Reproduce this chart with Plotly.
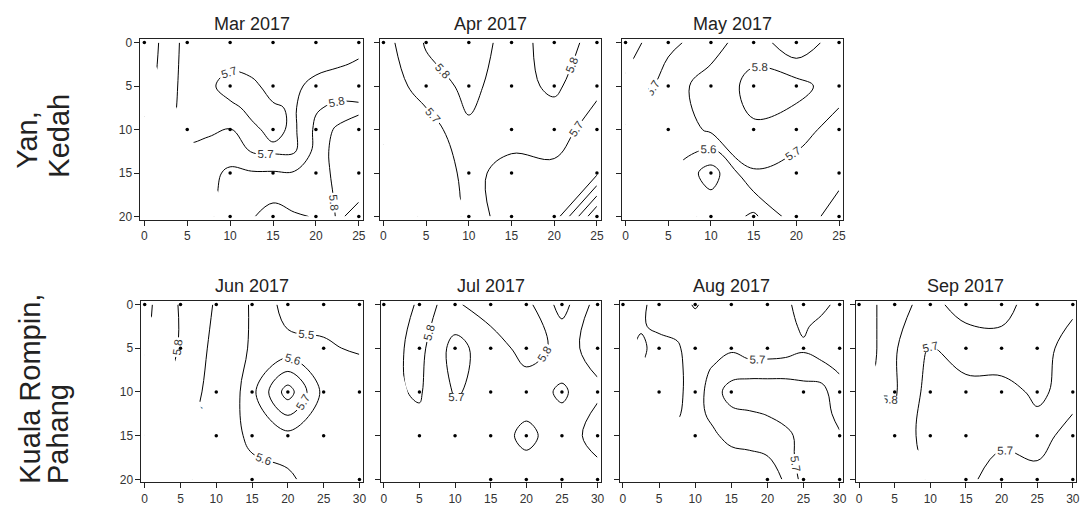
import plotly.graph_objects as go

FONT = "Liberation Sans, Arial, sans-serif"

# ---------------- data ----------------
Y_VALS = [0, 5, 10, 15, 20]
X_ROW1 = [0, 5, 10, 15, 20, 25]
X_ROW2 = [0, 5, 10, 15, 20, 25, 30]
# March and August surfaces were read on a finer 2.5 m grid
X_MAR = [0, 2.5, 5, 7.5, 10, 12.5, 15, 17.5, 20, 22.5, 25]
Y_FINE = [0, 2.5, 5, 7.5, 10, 12.5, 15, 17.5, 20]
X_AUG = [0, 2.5, 5, 7.5, 10, 12.5, 15, 17.5, 20, 22.5, 25, 27.5, 30]
X_TICKS_ROW1 = [0, 5, 10, 15, 20, 25]
X_TICKS_ROW2 = [0, 5, 10, 15, 20, 25, 30]
Y_TICKS = [0, 5, 10, 15, 20]

MONTHS = ["Mar 2017", "Apr 2017", "May 2017", "Jun 2017", "Jul 2017", "Aug 2017", "Sep 2017"]
SITES = [["Yan,", "Kedah"], ["Kuala Rompin,", "Pahang"]]

# pH surface values, rows = y, columns = x
Z_MAR = [[5.86, 5.77, 5.66, 5.66, 5.65, 5.66, 5.66, 5.66, 5.65, 5.66, 5.67],
         [5.86, 5.76, 5.66, 5.65, 5.68, 5.67, 5.66, 5.66, 5.67, 5.69, 5.71],
         [5.85, 5.75, 5.66, 5.68, 5.74, 5.72, 5.67, 5.68, 5.73, 5.75, 5.77],
         [5.83, 5.74, 5.66, 5.67, 5.68, 5.72, 5.71, 5.69, 5.79, 5.82, 5.81],
         [5.76, 5.72, 5.67, 5.68, 5.702, 5.685, 5.72, 5.685, 5.82, 5.795, 5.78],
         [5.74, 5.72, 5.72, 5.74, 5.75, 5.695, 5.685, 5.69, 5.83, 5.78, 5.77],
         [5.72, 5.74, 5.75, 5.77, 5.82, 5.81, 5.81, 5.81, 5.84, 5.78, 5.76],
         [5.72, 5.74, 5.76, 5.78, 5.83, 5.85, 5.87, 5.86, 5.84, 5.79, 5.79],
         [5.72, 5.74, 5.77, 5.79, 5.83, 5.89, 5.95, 5.91, 5.895, 5.79, 5.82]]
Z_APR = [[5.66, 5.81, 5.84, 5.77, 5.83, 5.78],
         [5.62, 5.76, 5.82, 5.76, 5.82, 5.72],
         [5.61, 5.64, 5.79, 5.75, 5.74, 5.66],
         [5.58, 5.62, 5.73, 5.66, 5.68, 5.62],
         [5.56, 5.61, 5.72, 5.68, 5.66, 5.20]]
Z_MAY = [[5.85, 5.72, 5.66, 5.76, 5.62, 5.76],
         [5.78, 5.66, 5.74, 5.83, 5.84, 5.74],
         [5.69, 5.62, 5.72, 5.79, 5.74, 5.66],
         [5.62, 5.62, 5.45, 5.69, 5.66, 5.68],
         [5.62, 5.64, 5.58, 5.48, 5.66, 5.73]]
Z_JUN = [[5.93, 5.79, 5.69, 5.59, 5.46, 5.47, 5.46],
         [5.91, 5.79, 5.67, 5.59, 5.53, 5.51, 5.49],
         [5.85, 5.76, 5.66, 5.57, 5.85, 5.57, 5.56],
         [5.80, 5.72, 5.66, 5.58, 5.57, 5.56, 5.56],
         [5.78, 5.72, 5.66, 5.63, 5.61, 5.57, 5.55]]
Z_JUL = [[5.74, 5.81, 5.79, 5.84, 5.83, 5.66, 5.84],
         [5.76, 5.83, 5.66, 5.76, 5.83, 5.78, 5.82],
         [5.78, 5.81, 5.69, 5.74, 5.76, 5.68, 5.79],
         [5.77, 5.77, 5.75, 5.76, 5.82, 5.76, 5.83],
         [5.76, 5.76, 5.76, 5.76, 5.76, 5.76, 5.77]]
Z_AUG = [[5.72, 5.705, 5.69, 5.68, 5.705, 5.68, 5.68, 5.68, 5.68, 5.69, 5.72, 5.71, 5.69],
         [5.72, 5.705, 5.69, 5.69, 5.68, 5.68, 5.68, 5.68, 5.68, 5.69, 5.705, 5.69, 5.68],
         [5.72, 5.69, 5.72, 5.705, 5.68, 5.68, 5.695, 5.68, 5.68, 5.685, 5.695, 5.68, 5.68],
         [5.72, 5.705, 5.72, 5.71, 5.68, 5.705, 5.72, 5.72, 5.72, 5.72, 5.72, 5.715, 5.695],
         [5.72, 5.71, 5.72, 5.71, 5.68, 5.72, 5.68, 5.67, 5.67, 5.67, 5.68, 5.69, 5.72],
         [5.71, 5.72, 5.72, 5.705, 5.68, 5.715, 5.71, 5.705, 5.698, 5.68, 5.68, 5.68, 5.715],
         [5.71, 5.71, 5.71, 5.69, 5.68, 5.69, 5.72, 5.72, 5.72, 5.715, 5.68, 5.68, 5.695],
         [5.71, 5.71, 5.71, 5.69, 5.68, 5.68, 5.68, 5.69, 5.698, 5.72, 5.68, 5.67, 5.68],
         [5.69, 5.69, 5.69, 5.68, 5.68, 5.68, 5.68, 5.68, 5.68, 5.705, 5.698, 5.68, 5.68]]
Z_SEP = [[5.78, 5.82, 5.78, 5.83, 5.83, 5.76, 5.72],
         [5.79, 5.81, 5.69, 5.76, 5.77, 5.74, 5.66],
         [5.79, 5.81, 5.66, 5.66, 5.66, 5.72, 5.66],
         [5.78, 5.76, 5.66, 5.66, 5.68, 5.66, 5.74],
         [5.78, 5.76, 5.69, 5.68, 5.74, 5.73, 5.75]]

# sampling stations: y -> list of x
PTS_MAR = {0: [0, 5, 10, 15, 20, 25], 5: [10, 15, 20, 25], 10: [5, 10, 15, 20, 25],
           15: [10, 15, 20, 25], 20: [10, 15, 20, 25]}
PTS_APR = {0: [0, 5, 10, 15, 20, 25], 5: [5, 10, 15, 20, 25], 10: [15, 20, 25],
           15: [10, 15, 25], 20: [10, 15, 20, 25]}
PTS_MAY = {0: [0, 5, 10, 15, 20, 25], 5: [5, 10, 15, 20, 25], 10: [5, 15, 20, 25],
           15: [10, 20, 25], 20: [10, 15, 20, 25]}
PTS_JUN = {0: [0, 5, 10, 15, 20, 25, 30], 5: [5, 25], 10: [10, 15, 20, 25, 30],
           15: [10, 15, 20, 25], 20: [15, 30]}
PTS_JUL = {0: [0, 5, 10, 15, 20, 25, 30], 5: [5, 10, 15, 20, 30], 10: [5, 15, 20, 25, 30],
           15: [5, 10, 15, 20, 25, 30], 20: [15, 20, 25, 30]}
PTS_AUG = {0: [0, 5, 10, 15, 20, 25, 30], 5: [5, 10, 15, 20, 25, 30], 10: [5, 10, 15, 25, 30],
           15: [10, 30], 20: [20, 25, 30]}
PTS_SEP = {0: [0, 5, 10, 15, 20, 25, 30], 5: [15, 20, 25], 10: [5, 10, 15, 20, 25, 30],
           15: [5, 10, 15, 25, 30], 20: [15, 20, 25, 30]}

# ---------------- layout geometry (pixels) ----------------
FIG_W, FIG_H = 1087, 517
PANELS = [
    (MONTHS[0], X_MAR, Y_FINE, X_TICKS_ROW1, Z_MAR, PTS_MAR, (141, 364, 36, 219), True),
    (MONTHS[1], X_ROW1, Y_VALS, X_TICKS_ROW1, Z_APR, PTS_APR, (381, 603, 36, 219), False),
    (MONTHS[2], X_ROW1, Y_VALS, X_TICKS_ROW1, Z_MAY, PTS_MAY, (624, 846, 36, 219), False),
    (MONTHS[3], X_ROW2, Y_VALS, X_TICKS_ROW2, Z_JUN, PTS_JUN, (142, 364, 302, 486), True),
    (MONTHS[4], X_ROW2, Y_VALS, X_TICKS_ROW2, Z_JUL, PTS_JUL, (382, 603, 302, 486), False),
    (MONTHS[5], X_AUG, Y_FINE, X_TICKS_ROW2, Z_AUG, PTS_AUG, (622, 846, 302, 486), False),
    (MONTHS[6], X_ROW2, Y_VALS, X_TICKS_ROW2, Z_SEP, PTS_SEP, (859, 1080, 302, 486), False),
]


def px_x(p):
    return p / FIG_W


def px_y(p):
    return 1 - p / FIG_H


def convex_hull(points):
    pts = sorted(set(points))
    if len(pts) <= 2:
        return pts

    def cross(o, a, b):
        return (a[0] - o[0]) * (b[1] - o[1]) - (a[1] - o[1]) * (b[0] - o[0])

    lower, upper = [], []
    for p in pts:
        while len(lower) >= 2 and cross(lower[-2], lower[-1], p) <= 0:
            lower.pop()
        lower.append(p)
    for p in reversed(pts):
        while len(upper) >= 2 and cross(upper[-2], upper[-1], p) <= 0:
            upper.pop()
        upper.append(p)
    return lower[:-1] + upper[:-1]


def signed_area(poly):
    s = 0
    for i in range(len(poly)):
        x1, y1 = poly[i]
        x2, y2 = poly[(i + 1) % len(poly)]
        s += x1 * y2 - x2 * y1
    return s / 2


fig = go.Figure()
layout = dict(width=FIG_W, height=FIG_H, margin=dict(l=0, r=0, t=0, b=0),
              paper_bgcolor="white", plot_bgcolor="white", showlegend=False,
              font=dict(family=FONT, color="#222"))
annotations = []

for i, (title, xs, ys, xt, z, pts, box, first) in enumerate(PANELS):
    n = i + 1
    xa = "x" if n == 1 else f"x{n}"
    ya = "y" if n == 1 else f"y{n}"
    l, r, t, b = box
    xmax = xs[-1]
    ymax = ys[-1]
    padx = 0.45
    pady = 0.35

    fig.add_trace(go.Contour(
        x=xs, y=ys, z=z, xaxis=xa, yaxis=ya,
        contours=dict(start=5.0, end=6.0, size=0.1, coloring="none",
                      showlabels=True, labelformat=".1f",
                      labelfont=dict(size=11.5, color="#333", family=FONT)),
        line=dict(color="black", width=1, smoothing=1.1),
        showscale=False, hoverinfo="skip"))

    # blank out the area outside the convex hull of the sampling stations
    stations = [(x, y) for y, row in pts.items() for x in row]
    hull = convex_hull(stations)
    rect = [(0, 0), (xmax, 0), (xmax, ymax), (0, ymax)]
    if signed_area(hull) * signed_area(rect) > 0:
        hull = hull[::-1]
    k = min(range(len(hull)), key=lambda j: hull[j][0] ** 2 + hull[j][1] ** 2)
    hull = hull[k:] + hull[:k]
    poly = rect + [(0, 0)] + hull + [hull[0], (0, 0)]
    fig.add_trace(go.Scatter(
        x=[p[0] for p in poly], y=[p[1] for p in poly], xaxis=xa, yaxis=ya,
        mode="lines", fill="toself", fillcolor="white", line=dict(width=0, color="white"),
        hoverinfo="skip"))

    fig.add_trace(go.Scatter(
        x=[x for x, y in stations], y=[y for x, y in stations], xaxis=xa, yaxis=ya,
        mode="markers", marker=dict(size=3.5, color="black"), hoverinfo="skip"))

    axis_common = dict(showgrid=False, zeroline=False, showline=True, mirror=True,
                       linecolor="#222", linewidth=1, ticks="outside", ticklen=5,
                       tickcolor="#222", tickwidth=1,
                       tickfont=dict(size=12, color="#333", family=FONT))
    layout["xaxis" if n == 1 else f"xaxis{n}"] = dict(
        axis_common, domain=[px_x(l), px_x(r)], range=[-padx, xmax + padx],
        tickvals=xt, anchor=ya)
    layout["yaxis" if n == 1 else f"yaxis{n}"] = dict(
        axis_common, domain=[px_y(b), px_y(t)], range=[ymax + pady, -pady],
        tickvals=Y_TICKS, showticklabels=first, anchor=xa)

    annotations.append(dict(text=title, x=px_x((l + r) / 2), y=px_y(t - 16),
                            xref="paper", yref="paper", showarrow=False,
                            xanchor="center", yanchor="middle",
                            font=dict(size=18, color="#222", family=FONT)))

# row labels (rotated)
ROW_LABEL_POS = [[(27, 138), (59, 134)], [(30, 391), (58, 437)]]
for lines, positions in zip(SITES, ROW_LABEL_POS):
    for txt, (cx, cy) in zip(lines, positions):
        annotations.append(dict(text=txt, x=px_x(cx), y=px_y(cy), xref="paper", yref="paper",
                                showarrow=False, textangle=-90, xanchor="center",
                                yanchor="middle",
                                font=dict(size=29, color="#222", family=FONT)))

layout["annotations"] = annotations
fig.update_layout(**layout)
fig.write_html("out.html", config={"displayModeBar": False},
               post_script="document.body.style.margin='0';document.body.style.overflow='hidden';")
